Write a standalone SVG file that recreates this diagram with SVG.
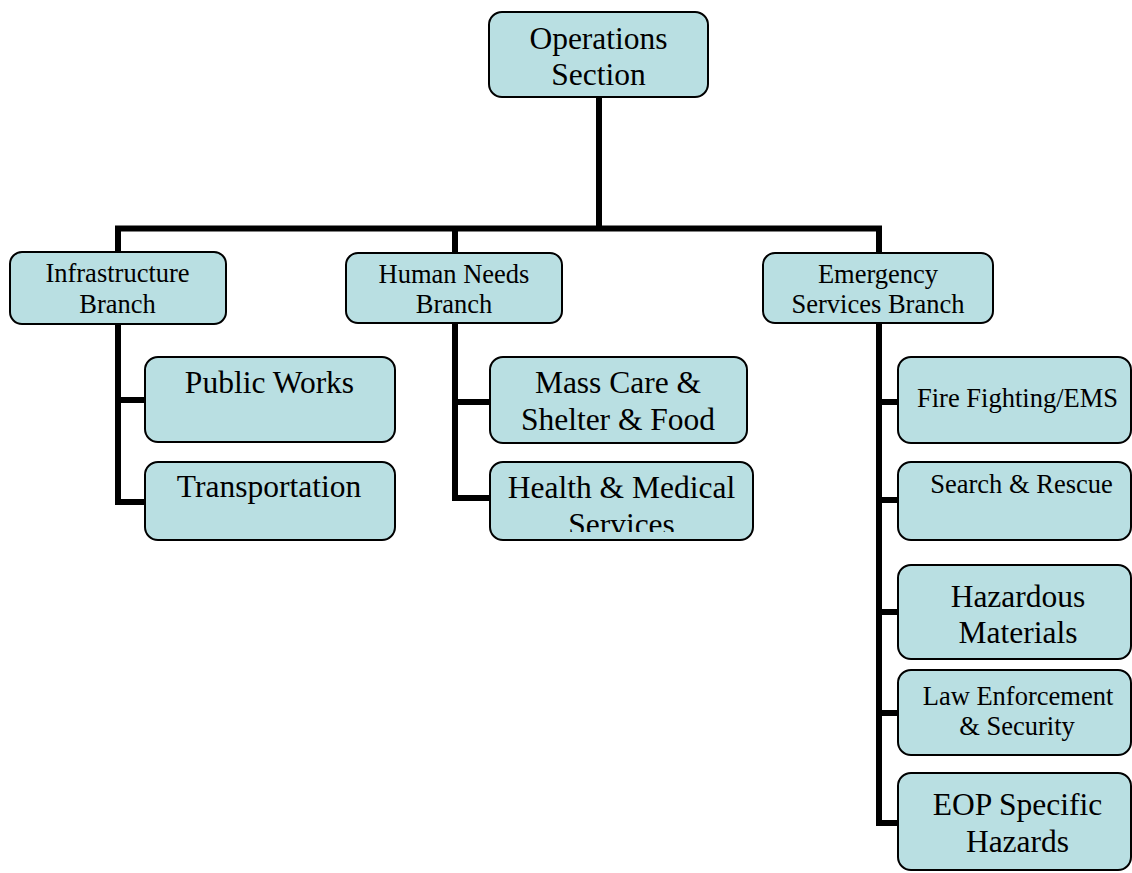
<svg xmlns="http://www.w3.org/2000/svg" width="1132" height="873" viewBox="0 0 1132 873">
  <style>
    .box { fill: #b9dfe2; stroke: #000; stroke-width: 2; }
    .lg { font-family: "Liberation Serif", "Times New Roman", serif; font-size: 31.5px; fill: #000; text-anchor: middle; }
    .sm { font-family: "Liberation Serif", "Times New Roman", serif; font-size: 26.5px; fill: #000; text-anchor: middle; }
    .conn { fill: none; stroke: #000; stroke-width: 6; stroke-linejoin: miter; stroke-linecap: butt; }
  </style>
  <defs>
    <clipPath id="clipHealth">
      <rect x="490" y="462" width="263" height="70"/>
    </clipPath>
  </defs>
  <rect width="1132" height="873" fill="#fff"/>

  <g id="connectors">
    <path class="conn" d="M599 97 V228.5"/>
    <path class="conn" d="M118 252 V228.5 H879 V253"/>
    <path class="conn" d="M455 228.5 V253"/>
    <path class="conn" d="M118 324 V502 H146"/>
    <path class="conn" d="M118 400 H146"/>
    <path class="conn" d="M455 323 V498 H491"/>
    <path class="conn" d="M455 402 H491"/>
    <path class="conn" d="M879 323 V823 H899"/>
    <path class="conn" d="M879 402 H899"/>
    <path class="conn" d="M879 500 H899"/>
    <path class="conn" d="M879 612 H899"/>
    <path class="conn" d="M879 713 H899"/>
  </g>

  <g id="operations-section">
    <rect class="box" x="489" y="12" width="219" height="85" rx="13"/>
    <text class="lg" x="598.5" y="49">Operations</text>
    <text class="lg" x="598.5" y="85">Section</text>
  </g>

  <g id="infrastructure-branch">
    <rect class="box" x="10" y="252" width="216" height="72" rx="12"/>
    <text class="sm" x="117.5" y="282">Infrastructure</text>
    <text class="sm" x="117.5" y="313">Branch</text>
  </g>

  <g id="human-needs-branch">
    <rect class="box" x="346" y="253" width="216" height="70" rx="12"/>
    <text class="sm" x="454" y="283">Human Needs</text>
    <text class="sm" x="454" y="313">Branch</text>
  </g>

  <g id="emergency-services-branch">
    <rect class="box" x="763" y="253" width="230" height="70" rx="12"/>
    <text class="sm" x="878" y="283">Emergency</text>
    <text class="sm" x="878" y="313">Services Branch</text>
  </g>

  <g id="public-works">
    <rect class="box" x="145" y="357" width="250" height="85" rx="13"/>
    <text class="lg" x="269.5" y="393">Public Works</text>
  </g>

  <g id="transportation">
    <rect class="box" x="145" y="462" width="250" height="78" rx="13"/>
    <text class="lg" x="269" y="497">Transportation</text>
  </g>

  <g id="mass-care">
    <rect class="box" x="490" y="357" width="257" height="86" rx="13"/>
    <text class="lg" x="618" y="393">Mass Care &amp;</text>
    <text class="lg" x="618" y="430">Shelter &amp; Food</text>
  </g>

  <g id="health-medical">
    <rect class="box" x="490" y="462" width="263" height="78" rx="13"/>
    <g clip-path="url(#clipHealth)">
      <text class="lg" x="621.5" y="498">Health &amp; Medical</text>
      <text class="lg" x="621.5" y="535">Services</text>
    </g>
  </g>

  <g id="fire-fighting">
    <rect class="box" x="898" y="357" width="233" height="86" rx="13"/>
    <text class="sm" x="1017.5" y="407">Fire Fighting/EMS</text>
  </g>

  <g id="search-rescue">
    <rect class="box" x="898" y="462" width="233" height="78" rx="13"/>
    <text class="sm" x="1021.5" y="493">Search &amp; Rescue</text>
  </g>

  <g id="hazardous-materials">
    <rect class="box" x="898" y="565" width="233" height="94" rx="13"/>
    <text class="lg" x="1018" y="607">Hazardous</text>
    <text class="lg" x="1018" y="643">Materials</text>
  </g>

  <g id="law-enforcement">
    <rect class="box" x="898" y="670" width="233" height="85" rx="13"/>
    <text class="sm" x="1018" y="705">Law Enforcement</text>
    <text class="sm" x="1017" y="735">&amp; Security</text>
  </g>

  <g id="eop-specific-hazards">
    <rect class="box" x="898" y="773" width="233" height="97" rx="13"/>
    <text class="lg" x="1017.5" y="815">EOP Specific</text>
    <text class="lg" x="1017.5" y="852">Hazards</text>
  </g>
</svg>
